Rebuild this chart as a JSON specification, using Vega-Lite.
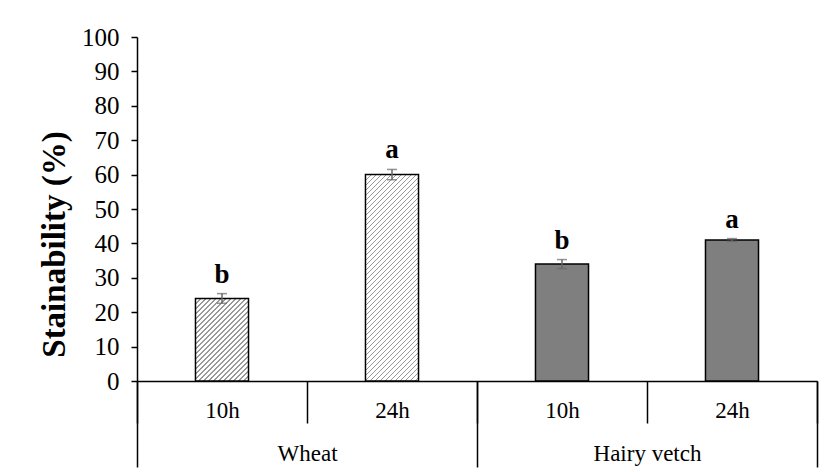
{
"$schema": "https://vega.github.io/schema/vega-lite/v6.json",
"width": 680, "height": 344,
"autosize": {"type": "none"},
"padding": {"left": 137, "top": 37, "right": 16, "bottom": 91},
"background": "white",
"config": {"view": {"stroke": null}, "font": "Liberation Serif",
  "axisY": {"grid": false, "domainColor":"black","domainWidth":1.5,"tickColor":"black","tickWidth":1.5,"tickSize":6,"labelFontSize":25,"labelColor":"black","labelPadding":12,"titleFontSize":33,"titleFontWeight":"bold","titleColor":"black","titlePadding":10,"titleY":207}},
"data": {"values": [
{"crop":"Wheat","hour":"10h","key":"Wheat|10h","value":24,"lo":22.6,"hi":25.4,"letter":"b"},
{"crop":"Wheat","hour":"24h","key":"Wheat|24h","value":60,"lo":58.5,"hi":61.5,"letter":"a"},
{"crop":"Hairy vetch","hour":"10h","key":"Hairy vetch|10h","value":34,"lo":32.7,"hi":35.3,"letter":"b"},
{"crop":"Hairy vetch","hour":"24h","key":"Hairy vetch|24h","value":41,"lo":40.6,"hi":41.4,"letter":"a"}
]},
"layer": [
{
"encoding": {"x": {"field":"key","type":"nominal","sort":["Wheat|10h","Wheat|24h","Hairy vetch|10h","Hairy vetch|24h"],
  "scale":{"type":"band","paddingInner":0,"paddingOuter":0},
  "axis":{"title":null,"labelExpr":"slice(datum.label, -3)","tickBand":"extent","tickSize":42,"tickWidth":1.5,"tickColor":"black","domainColor":"black","domainWidth":1.5,"labelFontSize":23,"labelColor":"black","labelAngle":0,"labelBaseline":"alphabetic","labelPadding":-6}}},
"layer": [
{"mark": {"type":"bar","width":{"band":0.312},"stroke":"black","strokeWidth":1.5},
 "encoding": {
  "y": {"field":"value","type":"quantitative","title":"Stainability (%)","scale":{"domain":[0,100]},
    "axis":{"values":[0,10,20,30,40,50,60,70,80,90,100],"tickCount":11,"labelOverlap":false}},
  "fill": {"condition":[
   {"test":"datum.key === 'Wheat|10h'","value":{"gradient":"linear","x1":0,"y1":0,"x2":0.7703,"y2":1.2005,"stops":[
{"offset":0,"color":"#999999"},{"offset":0.0107,"color":"#999999"},{"offset":0.0107,"color":"#ffffff"},{"offset":0.0357,"color":"#ffffff"},
{"offset":0.0357,"color":"#999999"},{"offset":0.0464,"color":"#999999"},{"offset":0.0464,"color":"#ffffff"},{"offset":0.0714,"color":"#ffffff"},
{"offset":0.0714,"color":"#999999"},{"offset":0.0821,"color":"#999999"},{"offset":0.0821,"color":"#ffffff"},{"offset":0.1071,"color":"#ffffff"},
{"offset":0.1071,"color":"#999999"},{"offset":0.1178,"color":"#999999"},{"offset":0.1178,"color":"#ffffff"},{"offset":0.1429,"color":"#ffffff"},
{"offset":0.1429,"color":"#999999"},{"offset":0.1536,"color":"#999999"},{"offset":0.1536,"color":"#ffffff"},{"offset":0.1786,"color":"#ffffff"},
{"offset":0.1786,"color":"#999999"},{"offset":0.1893,"color":"#999999"},{"offset":0.1893,"color":"#ffffff"},{"offset":0.2143,"color":"#ffffff"},
{"offset":0.2143,"color":"#999999"},{"offset":0.225,"color":"#999999"},{"offset":0.225,"color":"#ffffff"},{"offset":0.25,"color":"#ffffff"},
{"offset":0.25,"color":"#999999"},{"offset":0.2607,"color":"#999999"},{"offset":0.2607,"color":"#ffffff"},{"offset":0.2857,"color":"#ffffff"},
{"offset":0.2857,"color":"#999999"},{"offset":0.2964,"color":"#999999"},{"offset":0.2964,"color":"#ffffff"},{"offset":0.3214,"color":"#ffffff"},
{"offset":0.3214,"color":"#999999"},{"offset":0.3321,"color":"#999999"},{"offset":0.3321,"color":"#ffffff"},{"offset":0.3571,"color":"#ffffff"},
{"offset":0.3571,"color":"#999999"},{"offset":0.3678,"color":"#999999"},{"offset":0.3678,"color":"#ffffff"},{"offset":0.3929,"color":"#ffffff"},
{"offset":0.3929,"color":"#999999"},{"offset":0.4036,"color":"#999999"},{"offset":0.4036,"color":"#ffffff"},{"offset":0.4286,"color":"#ffffff"},
{"offset":0.4286,"color":"#999999"},{"offset":0.4393,"color":"#999999"},{"offset":0.4393,"color":"#ffffff"},{"offset":0.4643,"color":"#ffffff"},
{"offset":0.4643,"color":"#999999"},{"offset":0.475,"color":"#999999"},{"offset":0.475,"color":"#ffffff"},{"offset":0.5,"color":"#ffffff"},
{"offset":0.5,"color":"#999999"},{"offset":0.5107,"color":"#999999"},{"offset":0.5107,"color":"#ffffff"},{"offset":0.5357,"color":"#ffffff"},
{"offset":0.5357,"color":"#999999"},{"offset":0.5464,"color":"#999999"},{"offset":0.5464,"color":"#ffffff"},{"offset":0.5714,"color":"#ffffff"},
{"offset":0.5714,"color":"#999999"},{"offset":0.5821,"color":"#999999"},{"offset":0.5821,"color":"#ffffff"},{"offset":0.6071,"color":"#ffffff"},
{"offset":0.6071,"color":"#999999"},{"offset":0.6178,"color":"#999999"},{"offset":0.6178,"color":"#ffffff"},{"offset":0.6429,"color":"#ffffff"},
{"offset":0.6429,"color":"#999999"},{"offset":0.6536,"color":"#999999"},{"offset":0.6536,"color":"#ffffff"},{"offset":0.6786,"color":"#ffffff"},
{"offset":0.6786,"color":"#999999"},{"offset":0.6893,"color":"#999999"},{"offset":0.6893,"color":"#ffffff"},{"offset":0.7143,"color":"#ffffff"},
{"offset":0.7143,"color":"#999999"},{"offset":0.725,"color":"#999999"},{"offset":0.725,"color":"#ffffff"},{"offset":0.75,"color":"#ffffff"},
{"offset":0.75,"color":"#999999"},{"offset":0.7607,"color":"#999999"},{"offset":0.7607,"color":"#ffffff"},{"offset":0.7857,"color":"#ffffff"},
{"offset":0.7857,"color":"#999999"},{"offset":0.7964,"color":"#999999"},{"offset":0.7964,"color":"#ffffff"},{"offset":0.8214,"color":"#ffffff"},
{"offset":0.8214,"color":"#999999"},{"offset":0.8321,"color":"#999999"},{"offset":0.8321,"color":"#ffffff"},{"offset":0.8571,"color":"#ffffff"},
{"offset":0.8571,"color":"#999999"},{"offset":0.8678,"color":"#999999"},{"offset":0.8678,"color":"#ffffff"},{"offset":0.8929,"color":"#ffffff"},
{"offset":0.8929,"color":"#999999"},{"offset":0.9036,"color":"#999999"},{"offset":0.9036,"color":"#ffffff"},{"offset":0.9286,"color":"#ffffff"},
{"offset":0.9286,"color":"#999999"},{"offset":0.9393,"color":"#999999"},{"offset":0.9393,"color":"#ffffff"},{"offset":0.9643,"color":"#ffffff"},
{"offset":0.9643,"color":"#999999"},{"offset":0.975,"color":"#999999"},{"offset":0.975,"color":"#ffffff"},{"offset":1,"color":"#ffffff"}
   ]}},
   {"test":"datum.key === 'Wheat|24h'","value":{"gradient":"linear","x1":0,"y1":0,"x2":0.3035,"y2":1.1819,"stops":[
{"offset":0,"color":"#999999"},{"offset":0.0058,"color":"#999999"},{"offset":0.0058,"color":"#ffffff"},{"offset":0.0192,"color":"#ffffff"},
{"offset":0.0192,"color":"#999999"},{"offset":0.025,"color":"#999999"},{"offset":0.025,"color":"#ffffff"},{"offset":0.0385,"color":"#ffffff"},
{"offset":0.0385,"color":"#999999"},{"offset":0.0443,"color":"#999999"},{"offset":0.0443,"color":"#ffffff"},{"offset":0.0577,"color":"#ffffff"},
{"offset":0.0577,"color":"#999999"},{"offset":0.0635,"color":"#999999"},{"offset":0.0635,"color":"#ffffff"},{"offset":0.0769,"color":"#ffffff"},
{"offset":0.0769,"color":"#999999"},{"offset":0.0827,"color":"#999999"},{"offset":0.0827,"color":"#ffffff"},{"offset":0.0962,"color":"#ffffff"},
{"offset":0.0962,"color":"#999999"},{"offset":0.102,"color":"#999999"},{"offset":0.102,"color":"#ffffff"},{"offset":0.1154,"color":"#ffffff"},
{"offset":0.1154,"color":"#999999"},{"offset":0.1212,"color":"#999999"},{"offset":0.1212,"color":"#ffffff"},{"offset":0.1346,"color":"#ffffff"},
{"offset":0.1346,"color":"#999999"},{"offset":0.1404,"color":"#999999"},{"offset":0.1404,"color":"#ffffff"},{"offset":0.1538,"color":"#ffffff"},
{"offset":0.1538,"color":"#999999"},{"offset":0.1596,"color":"#999999"},{"offset":0.1596,"color":"#ffffff"},{"offset":0.1731,"color":"#ffffff"},
{"offset":0.1731,"color":"#999999"},{"offset":0.1789,"color":"#999999"},{"offset":0.1789,"color":"#ffffff"},{"offset":0.1923,"color":"#ffffff"},
{"offset":0.1923,"color":"#999999"},{"offset":0.1981,"color":"#999999"},{"offset":0.1981,"color":"#ffffff"},{"offset":0.2115,"color":"#ffffff"},
{"offset":0.2115,"color":"#999999"},{"offset":0.2173,"color":"#999999"},{"offset":0.2173,"color":"#ffffff"},{"offset":0.2308,"color":"#ffffff"},
{"offset":0.2308,"color":"#999999"},{"offset":0.2366,"color":"#999999"},{"offset":0.2366,"color":"#ffffff"},{"offset":0.25,"color":"#ffffff"},
{"offset":0.25,"color":"#999999"},{"offset":0.2558,"color":"#999999"},{"offset":0.2558,"color":"#ffffff"},{"offset":0.2692,"color":"#ffffff"},
{"offset":0.2692,"color":"#999999"},{"offset":0.275,"color":"#999999"},{"offset":0.275,"color":"#ffffff"},{"offset":0.2885,"color":"#ffffff"},
{"offset":0.2885,"color":"#999999"},{"offset":0.2943,"color":"#999999"},{"offset":0.2943,"color":"#ffffff"},{"offset":0.3077,"color":"#ffffff"},
{"offset":0.3077,"color":"#999999"},{"offset":0.3135,"color":"#999999"},{"offset":0.3135,"color":"#ffffff"},{"offset":0.3269,"color":"#ffffff"},
{"offset":0.3269,"color":"#999999"},{"offset":0.3327,"color":"#999999"},{"offset":0.3327,"color":"#ffffff"},{"offset":0.3462,"color":"#ffffff"},
{"offset":0.3462,"color":"#999999"},{"offset":0.352,"color":"#999999"},{"offset":0.352,"color":"#ffffff"},{"offset":0.3654,"color":"#ffffff"},
{"offset":0.3654,"color":"#999999"},{"offset":0.3712,"color":"#999999"},{"offset":0.3712,"color":"#ffffff"},{"offset":0.3846,"color":"#ffffff"},
{"offset":0.3846,"color":"#999999"},{"offset":0.3904,"color":"#999999"},{"offset":0.3904,"color":"#ffffff"},{"offset":0.4038,"color":"#ffffff"},
{"offset":0.4038,"color":"#999999"},{"offset":0.4096,"color":"#999999"},{"offset":0.4096,"color":"#ffffff"},{"offset":0.4231,"color":"#ffffff"},
{"offset":0.4231,"color":"#999999"},{"offset":0.4289,"color":"#999999"},{"offset":0.4289,"color":"#ffffff"},{"offset":0.4423,"color":"#ffffff"},
{"offset":0.4423,"color":"#999999"},{"offset":0.4481,"color":"#999999"},{"offset":0.4481,"color":"#ffffff"},{"offset":0.4615,"color":"#ffffff"},
{"offset":0.4615,"color":"#999999"},{"offset":0.4673,"color":"#999999"},{"offset":0.4673,"color":"#ffffff"},{"offset":0.4808,"color":"#ffffff"},
{"offset":0.4808,"color":"#999999"},{"offset":0.4866,"color":"#999999"},{"offset":0.4866,"color":"#ffffff"},{"offset":0.5,"color":"#ffffff"},
{"offset":0.5,"color":"#999999"},{"offset":0.5058,"color":"#999999"},{"offset":0.5058,"color":"#ffffff"},{"offset":0.5192,"color":"#ffffff"},
{"offset":0.5192,"color":"#999999"},{"offset":0.525,"color":"#999999"},{"offset":0.525,"color":"#ffffff"},{"offset":0.5385,"color":"#ffffff"},
{"offset":0.5385,"color":"#999999"},{"offset":0.5443,"color":"#999999"},{"offset":0.5443,"color":"#ffffff"},{"offset":0.5577,"color":"#ffffff"},
{"offset":0.5577,"color":"#999999"},{"offset":0.5635,"color":"#999999"},{"offset":0.5635,"color":"#ffffff"},{"offset":0.5769,"color":"#ffffff"},
{"offset":0.5769,"color":"#999999"},{"offset":0.5827,"color":"#999999"},{"offset":0.5827,"color":"#ffffff"},{"offset":0.5962,"color":"#ffffff"},
{"offset":0.5962,"color":"#999999"},{"offset":0.602,"color":"#999999"},{"offset":0.602,"color":"#ffffff"},{"offset":0.6154,"color":"#ffffff"},
{"offset":0.6154,"color":"#999999"},{"offset":0.6212,"color":"#999999"},{"offset":0.6212,"color":"#ffffff"},{"offset":0.6346,"color":"#ffffff"},
{"offset":0.6346,"color":"#999999"},{"offset":0.6404,"color":"#999999"},{"offset":0.6404,"color":"#ffffff"},{"offset":0.6538,"color":"#ffffff"},
{"offset":0.6538,"color":"#999999"},{"offset":0.6596,"color":"#999999"},{"offset":0.6596,"color":"#ffffff"},{"offset":0.6731,"color":"#ffffff"},
{"offset":0.6731,"color":"#999999"},{"offset":0.6789,"color":"#999999"},{"offset":0.6789,"color":"#ffffff"},{"offset":0.6923,"color":"#ffffff"},
{"offset":0.6923,"color":"#999999"},{"offset":0.6981,"color":"#999999"},{"offset":0.6981,"color":"#ffffff"},{"offset":0.7115,"color":"#ffffff"},
{"offset":0.7115,"color":"#999999"},{"offset":0.7173,"color":"#999999"},{"offset":0.7173,"color":"#ffffff"},{"offset":0.7308,"color":"#ffffff"},
{"offset":0.7308,"color":"#999999"},{"offset":0.7366,"color":"#999999"},{"offset":0.7366,"color":"#ffffff"},{"offset":0.75,"color":"#ffffff"},
{"offset":0.75,"color":"#999999"},{"offset":0.7558,"color":"#999999"},{"offset":0.7558,"color":"#ffffff"},{"offset":0.7692,"color":"#ffffff"},
{"offset":0.7692,"color":"#999999"},{"offset":0.775,"color":"#999999"},{"offset":0.775,"color":"#ffffff"},{"offset":0.7885,"color":"#ffffff"},
{"offset":0.7885,"color":"#999999"},{"offset":0.7943,"color":"#999999"},{"offset":0.7943,"color":"#ffffff"},{"offset":0.8077,"color":"#ffffff"},
{"offset":0.8077,"color":"#999999"},{"offset":0.8135,"color":"#999999"},{"offset":0.8135,"color":"#ffffff"},{"offset":0.8269,"color":"#ffffff"},
{"offset":0.8269,"color":"#999999"},{"offset":0.8327,"color":"#999999"},{"offset":0.8327,"color":"#ffffff"},{"offset":0.8462,"color":"#ffffff"},
{"offset":0.8462,"color":"#999999"},{"offset":0.852,"color":"#999999"},{"offset":0.852,"color":"#ffffff"},{"offset":0.8654,"color":"#ffffff"},
{"offset":0.8654,"color":"#999999"},{"offset":0.8712,"color":"#999999"},{"offset":0.8712,"color":"#ffffff"},{"offset":0.8846,"color":"#ffffff"},
{"offset":0.8846,"color":"#999999"},{"offset":0.8904,"color":"#999999"},{"offset":0.8904,"color":"#ffffff"},{"offset":0.9038,"color":"#ffffff"},
{"offset":0.9038,"color":"#999999"},{"offset":0.9096,"color":"#999999"},{"offset":0.9096,"color":"#ffffff"},{"offset":0.9231,"color":"#ffffff"},
{"offset":0.9231,"color":"#999999"},{"offset":0.9289,"color":"#999999"},{"offset":0.9289,"color":"#ffffff"},{"offset":0.9423,"color":"#ffffff"},
{"offset":0.9423,"color":"#999999"},{"offset":0.9481,"color":"#999999"},{"offset":0.9481,"color":"#ffffff"},{"offset":0.9615,"color":"#ffffff"},
{"offset":0.9615,"color":"#999999"},{"offset":0.9673,"color":"#999999"},{"offset":0.9673,"color":"#ffffff"},{"offset":0.9808,"color":"#ffffff"},
{"offset":0.9808,"color":"#999999"},{"offset":0.9866,"color":"#999999"},{"offset":0.9866,"color":"#ffffff"},{"offset":1,"color":"#ffffff"}
   ]}}
  ], "value":"#7f7f7f"}
 }},
{"mark": {"type":"rule","color":"#666666","strokeWidth":1.5},
 "encoding": {"y":{"field":"lo","type":"quantitative","title":"Stainability (%)","axis":{"values":[0,10,20,30,40,50,60,70,80,90,100],"tickCount":11,"labelOverlap":false}},"y2":{"field":"hi"}}},
{"mark": {"type":"tick","color":"#666666","size":10,"thickness":1.5},
 "encoding": {"y":{"field":"lo","type":"quantitative","title":"Stainability (%)","axis":{"values":[0,10,20,30,40,50,60,70,80,90,100],"tickCount":11,"labelOverlap":false}}}},
{"mark": {"type":"tick","color":"#666666","size":10,"thickness":1.5},
 "encoding": {"y":{"field":"hi","type":"quantitative","title":"Stainability (%)","axis":{"values":[0,10,20,30,40,50,60,70,80,90,100],"tickCount":11,"labelOverlap":false}}}},
{"mark": {"type":"text","fontWeight":"bold","fontSize":27,"baseline":"alphabetic","dy":-11,"color":"black"},
 "encoding": {"y":{"field":"hi","type":"quantitative","title":"Stainability (%)","axis":{"values":[0,10,20,30,40,50,60,70,80,90,100],"tickCount":11,"labelOverlap":false}},"text":{"field":"letter"}}}
]
},
{
"mark": {"type":"rule","opacity":0},
"encoding": {"x": {"field":"crop","type":"nominal","sort":["Wheat","Hairy vetch"],
  "scale":{"type":"band","paddingInner":0,"paddingOuter":0},
  "axis":{"title":null,"orient":"bottom","tickBand":"extent","tickSize":86,"tickWidth":1.5,"tickColor":"black","domain":false,"labelFontSize":23,"labelColor":"black","labelAngle":0,"labelBaseline":"alphabetic","labelPadding":-7}}}
}
],
"resolve": {"scale": {"x":"independent"}, "axis": {"x":"independent"}}
}
